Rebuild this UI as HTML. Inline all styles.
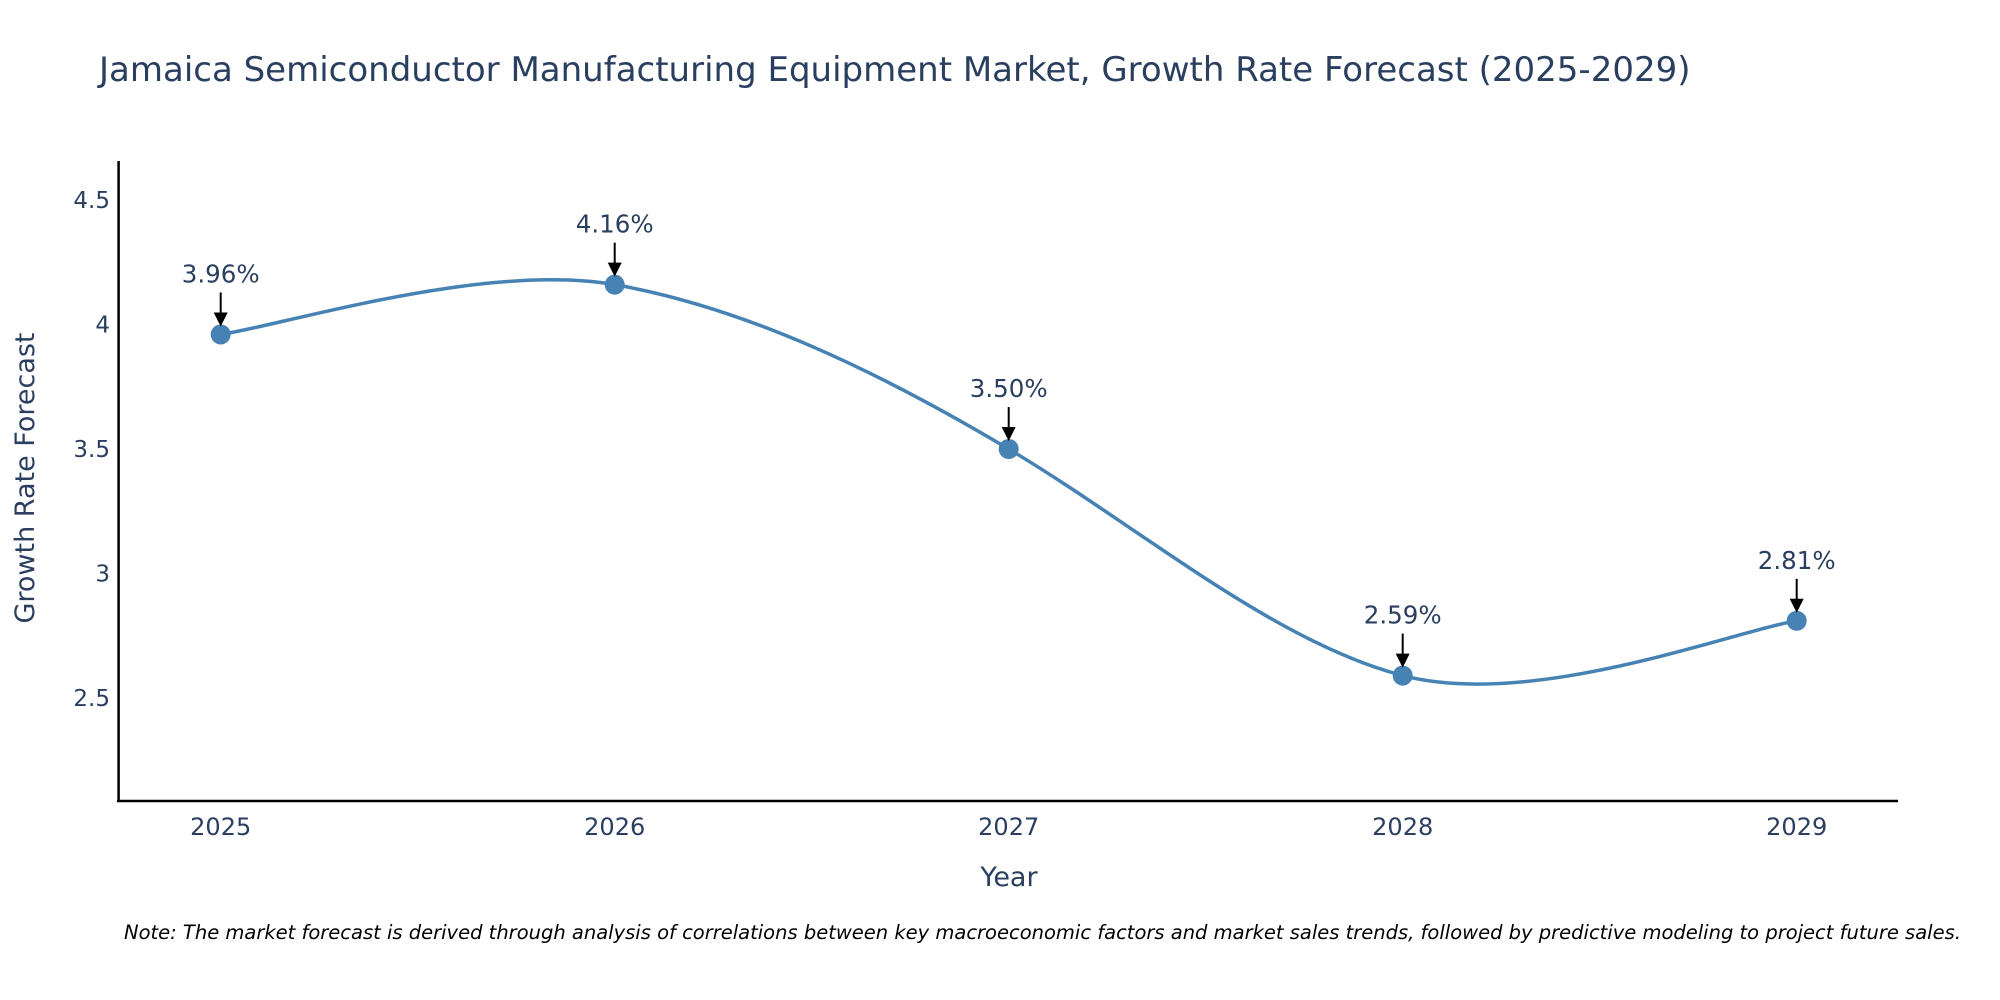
<!DOCTYPE html>
<html><head><meta charset="utf-8">
<style>
html,body{margin:0;padding:0;background:#fff;}
svg{display:block;font-family:"DejaVu Sans","Liberation Sans",sans-serif;}
</style></head>
<body>
<svg id="chart" width="2000" height="1000" viewBox="0 0 2000 1000">
<text x="99" y="81" font-size="34" fill="#2a3f5f">Jamaica Semiconductor Manufacturing Equipment Market, Growth Rate Forecast (2025-2029)</text>
<g id="axes"></g>
<g id="series"></g>
<g id="annots"></g>
<text x="1009" y="886" font-size="27" fill="#2a3f5f" text-anchor="middle">Year</text>
<text transform="translate(34,478) rotate(-90)" font-size="27" fill="#2a3f5f" text-anchor="middle">Growth Rate Forecast</text>
<text x="124" y="939" font-size="19.5" font-style="italic" fill="#000">Note: The market forecast is derived through analysis of correlations between key macroeconomic factors and market sales trends, followed by predictive modeling to project future sales.</text>
</svg>
<script>
const years = [2025, 2026, 2027, 2028, 2029];
const growth = [3.96, 4.16, 3.50, 2.59, 2.81];
const labels = ["3.96%", "4.16%", "3.50%", "2.59%", "2.81%"];
const yTicks = [2.5, 3, 3.5, 4, 4.5];
const yTickLabels = ["2.5", "3", "3.5", "4", "4.5"];

const NS = "http://www.w3.org/2000/svg";
const x = v => 220.7 + (v - 2025) * 394;
const y = v => 698 - (v - 2.5) * 249;
function mk(tag, attrs, parent){ const e=document.createElementNS(NS,tag); for(const k in attrs) e.setAttribute(k,attrs[k]); parent.appendChild(e); return e; }
const axes=document.getElementById('axes'), series=document.getElementById('series'), annots=document.getElementById('annots');

const yl=mk('line',{x1:118.6,y1:161,x2:118.6,y2:802,stroke:'#000','stroke-width':2.5},axes);


const xl=mk('line',{x1:117,y1:801,x2:1898,y2:801,stroke:'#000','stroke-width':2.5},axes);



yTicks.forEach((t,i)=>{
  const tx=mk('text',{x:110,y:y(t)+8,'font-size':23,fill:'#2a3f5f','text-anchor':'end'},axes);
  tx.textContent=yTickLabels[i];
  
  
});
years.forEach(yr=>{
  const tx=mk('text',{x:x(yr),y:835,'font-size':24,fill:'#2a3f5f','text-anchor':'middle'},axes);
  tx.textContent=String(yr);
  
  
});

const pts=years.map((yr,i)=>[x(yr),y(growth[i])]);
const s=0.33;
let d=`M${pts[0][0]},${pts[0][1]}`;
for(let i=0;i<pts.length-1;i++){
  const p0=pts[Math.max(i-1,0)],p1=pts[i],p2=pts[i+1],p3=pts[Math.min(i+2,pts.length-1)];
  const c1=[p1[0]+(p2[0]-p0[0])*s/2,p1[1]+(p2[1]-p0[1])*s/2*1.2];
  const c2=[p2[0]-(p3[0]-p1[0])*s/2,p2[1]-(p3[1]-p1[1])*s/2*1.2];
  d+=` C${c1[0]},${c1[1]} ${c2[0]},${c2[1]} ${p2[0]},${p2[1]}`;
}
const path=mk('path',{d:d,fill:'none',stroke:'#4682b4','stroke-width':3.5},series);



pts.forEach((p,i)=>{
  const c=mk('circle',{cx:p[0],cy:p[1],r:10,fill:'#4682b4'},series);
  
  
  const ln=mk('line',{x1:p[0],y1:p[1]-42,x2:p[0],y2:p[1]-20,stroke:'#000','stroke-width':2},annots);
  
  
  const hd=mk('polygon',{points:`${p[0]-7},${p[1]-22} ${p[0]+7},${p[1]-22} ${p[0]},${p[1]-8}`,fill:'#000'},annots);
  
  
  const t=mk('text',{x:p[0],y:p[1]-52,'font-size':24.5,fill:'#2a3f5f','text-anchor':'middle'},annots);
  t.textContent=labels[i];
  
  
});
</script>
</body></html>
